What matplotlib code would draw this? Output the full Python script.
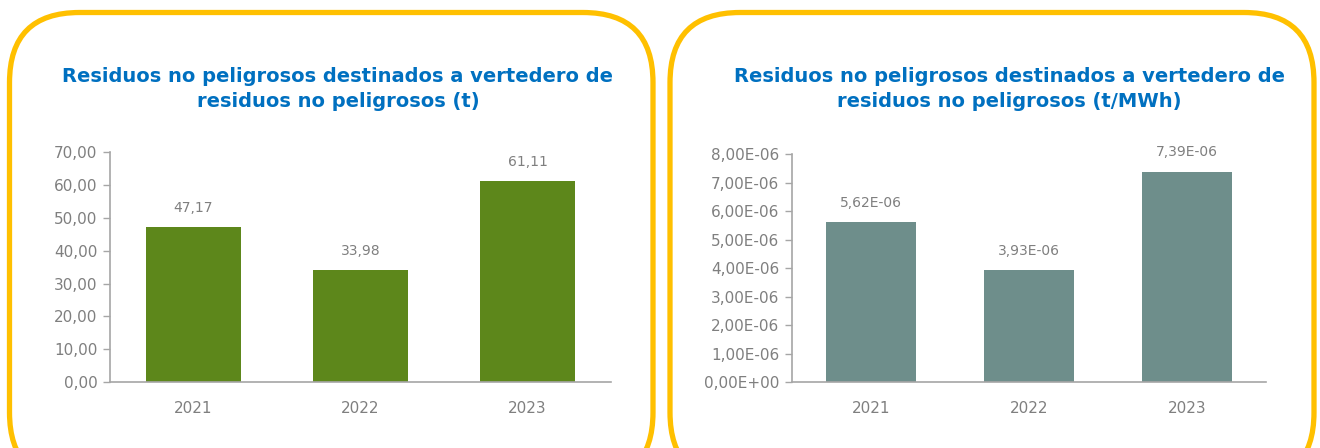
import matplotlib
matplotlib.use("Agg")
import matplotlib.pyplot as plt
from matplotlib.patches import FancyBboxPatch

# Waste sent to non-hazardous landfill
years = ["2021", "2022", "2023"]
tonnes = [47.17, 33.98, 61.11]
per_mwh = [5.62e-06, 3.93e-06, 7.39e-06]

title_t = "Residuos no peligrosos destinados a vertedero de\nresiduos no peligrosos (t)"
title_mwh = "Residuos no peligrosos destinados a vertedero de\nresiduos no peligrosos (t/MWh)"

W, H = 1320, 448
BLUE = "#0070C0"
GOLD = "#FFC000"
GRAY = "#7F7F7F"
FONT = "DejaVu Sans"


def fmt_dec(v):
    return f"{v:.2f}".replace(".", ",")


def fmt_sci(v):
    return f"{v:.2E}".replace(".", ",")


def px_axes(fig, left, top, right, bottom):
    return fig.add_axes([left / W, (H - bottom) / H, (right - left) / W, (bottom - top) / H])


def bar_panel(ax, values, color, ymax, step, fmt):
    x = range(len(years))
    ax.bar(x, values, width=0.57, color=color, zorder=2)
    ax.set_xlim(-0.5, len(years) - 0.5)
    ax.set_ylim(0, ymax)
    ticks = [i * step for i in range(int(round(ymax / step)) + 1)]
    ax.set_yticks(ticks)
    ax.set_yticklabels([fmt(t) for t in ticks])
    ax.set_xticks(list(x))
    ax.set_xticklabels(years)
    ax.tick_params(axis="y", length=5, width=1, color="#A6A6A6", pad=4,
                   labelsize=11, labelcolor=GRAY)
    ax.tick_params(axis="x", length=0, pad=14, labelsize=11, labelcolor=GRAY)
    for lbl in ax.get_xticklabels() + ax.get_yticklabels():
        lbl.set_fontfamily(FONT)
    for side in ("top", "right"):
        ax.spines[side].set_visible(False)
    for side in ("left", "bottom"):
        ax.spines[side].set_color("#A6A6A6")
        ax.spines[side].set_linewidth(1.2)
    ax.set_facecolor("none")
    for xi, v in zip(x, values):
        ax.annotate(fmt(v), (xi, v), xytext=(0, 14), textcoords="offset points",
                    ha="center", va="center", fontsize=10, color=GRAY, family=FONT)


fig = plt.figure(figsize=(W / 100, H / 100), dpi=100)
fig.patch.set_facecolor("white")

# pixel-space overlay for the rounded frames
bg = fig.add_axes([0, 0, 1, 1], zorder=0)
bg.set_xlim(0, W)
bg.set_ylim(H, 0)
bg.axis("off")
for x0, x1 in [(9.5, 653), (670, 1314)]:
    bg.add_patch(FancyBboxPatch((x0, 12.5), x1 - x0, 470,
                                boxstyle="round,pad=0,rounding_size=70",
                                facecolor="white", edgecolor=GOLD, linewidth=3.8))
bg.text(338, 89, title_t, ha="center", va="center", color=BLUE, fontsize=14,
        fontweight="bold", family=FONT, linespacing=1.4)
bg.text(1009, 89, title_mwh, ha="center", va="center", color=BLUE, fontsize=14,
        fontweight="bold", family=FONT, linespacing=1.4)

ax1 = px_axes(fig, 110, 152.3, 611, 382)
bar_panel(ax1, tonnes, "#5D871B", 70, 10, fmt_dec)

ax2 = px_axes(fig, 792, 154.3, 1266, 382)
bar_panel(ax2, per_mwh, "#6E8E8B", 8e-06, 1e-06, fmt_sci)

fig.savefig("out.png", dpi=100, facecolor=fig.get_facecolor())
